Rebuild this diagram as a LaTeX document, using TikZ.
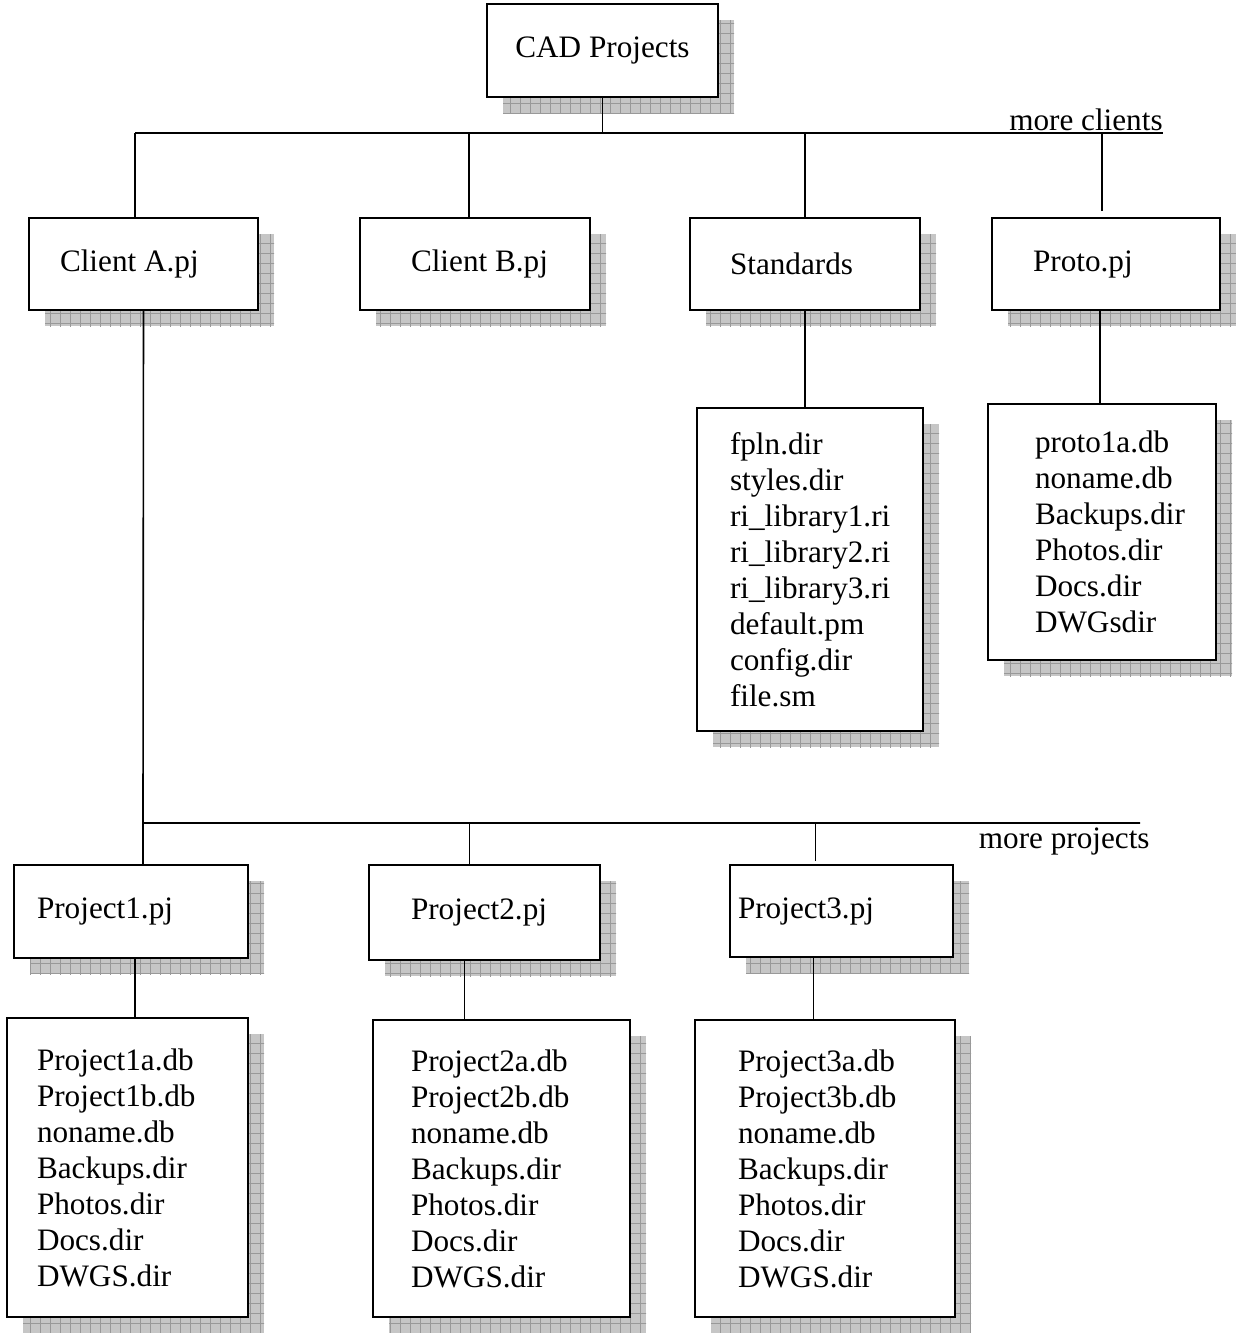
\documentclass[tikz,border=0pt]{standalone}
\usepackage{fontspec}
\setmainfont{Liberation Serif}
\usetikzlibrary{patterns.meta}
\tikzset{
  box/.style  = {draw, line width=1pt, fill=white,
                 font=\fontsize{15.6}{18}\selectfont,
                 preaction={fill=gray!45, transform canvas={shift={(8pt,-8pt)}}},
                 preaction={pattern={Hatch[distance=5pt,angle=0,line width=0.3pt]},
                            pattern color=gray!80, transform canvas={shift={(8pt,-8pt)}}}},
  lbox/.style = {box, align=flush left},
  link/.style = {line width=0.8pt},
  note/.style = {font=\fontsize{15.6}{18}\selectfont, inner sep=0pt}
}

\begin{document}
\begin{tikzpicture}[x=0.5pt,y=-0.5pt]
\useasboundingbox (0,0) rectangle (1236,1333);
% top level
\node[box,minimum width=115.5pt,minimum height=46.5pt] (cad) at (602.5,50.5) {CAD Projects};
\node[lbox,text width=83.5pt,inner xsep=15.5pt,minimum height=46pt] (cla) at (143.5,264) {Client A.pj};
\node[lbox,text width=64pt,inner xsep=25.5pt,minimum height=46pt] (clb) at (475,264) {\mbox{Client B.pj}};
\node[lbox,text width=75pt,inner xsep=20pt,minimum height=46pt] (std) at (805,264) {Standards};
\node[lbox,text width=73pt,inner xsep=20.5pt,minimum height=46pt] (pro) at (1106,264) {Proto.pj};
\node[lbox,text width=80pt,inner xsep=16.5pt,minimum height=161.5pt] (stdl) at (810,569.5)
  {fpln.dir\\styles.dir\\ri\_library1.ri\\ri\_library2.ri\\ri\_library3.ri\\default.pm\\config.dir\\file.sm};
\node[lbox,text width=67pt,inner xsep=23.5pt,minimum height=128pt] (prol) at (1102,532)
  {proto1a.db\\noname.db\\Backups.dir\\Photos.dir\\Docs.dir\\DWGsdir};
% projects
\node[lbox,text width=94pt,inner xsep=11.5pt,minimum height=46.5pt] (p1) at (131,911.5) {Project1.pj};
\node[lbox,text width=73.5pt,inner xsep=21pt,minimum height=47.5pt] (p2) at (484.5,912.5) {Project2.pj};
\node[lbox,text width=103.5pt,inner xsep=4pt,minimum height=46pt] (p3) at (841.5,911) {Project3.pj};
\node[lbox,text width=90.5pt,inner xsep=15pt,minimum height=149.5pt] (p1l) at (127.5,1167.5)
  {Project1a.db\\Project1b.db\\noname.db\\Backups.dir\\Photos.dir\\Docs.dir\\DWGS.dir};
\node[lbox,text width=90.5pt,inner xsep=19pt,minimum height=148.5pt] (p2l) at (501.5,1168.5)
  {Project2a.db\\Project2b.db\\noname.db\\Backups.dir\\Photos.dir\\Docs.dir\\DWGS.dir};
\node[lbox,text width=87pt,inner xsep=21.5pt,minimum height=148.5pt] (p3l) at (825,1168.5)
  {Project3a.db\\Project3b.db\\noname.db\\Backups.dir\\Photos.dir\\Docs.dir\\DWGS.dir};
% buses
\coordinate (tl) at (135,133);
\coordinate (tr) at (1163,133);
\coordinate (bl) at (143,823);
\coordinate (br) at (1140,823);
\node[note,anchor=base east] (moreC) at ([yshift=1.5pt]tr) {more clients};
\node[note,anchor=north east] (moreP) at ([xshift=5pt,yshift=-2pt]br) {more projects};
\draw[link] (tl) -- (tr);
\draw[link] (cad.south) -- (cad.south |- tl);
\draw[link] (tl) -- (tl |- cla.north);
\draw[link] ([xshift=-3pt]clb.north) -- ([xshift=-3pt]clb.north |- tl);
\draw[link] (std.north) -- (std.north |- tl);
\draw[link] ([xshift=-2pt,yshift=3pt]pro.north) -- ([xshift=-2pt]pro.north |- tl);
\draw[link] (std.south) -- (std.south |- stdl.north);
\draw[link] ([xshift=-3pt]pro.south) -- ([xshift=-3pt]pro.south |- prol.north);
\draw[link] (cla.south) -- (bl) -- (br);
\draw[link] (bl) -- (bl |- p1.north);
\draw[link] ([xshift=-7.5pt]p2.north) -- ([xshift=-7.5pt]p2.north |- bl);
\draw[link] ([xshift=-13pt,yshift=1.5pt]p3.north) -- ([xshift=-13pt]p3.north |- bl);
\draw[link] ([xshift=2pt]p1.south) -- ([xshift=2pt]p1.south |- p1l.north);
\draw[link] ([xshift=-10pt]p2.south) -- ([xshift=-10pt]p2.south |- p2l.north);
\draw[link] ([xshift=-14pt]p3.south) -- ([xshift=-14pt]p3.south |- p3l.north);
\end{tikzpicture}
\end{document}
